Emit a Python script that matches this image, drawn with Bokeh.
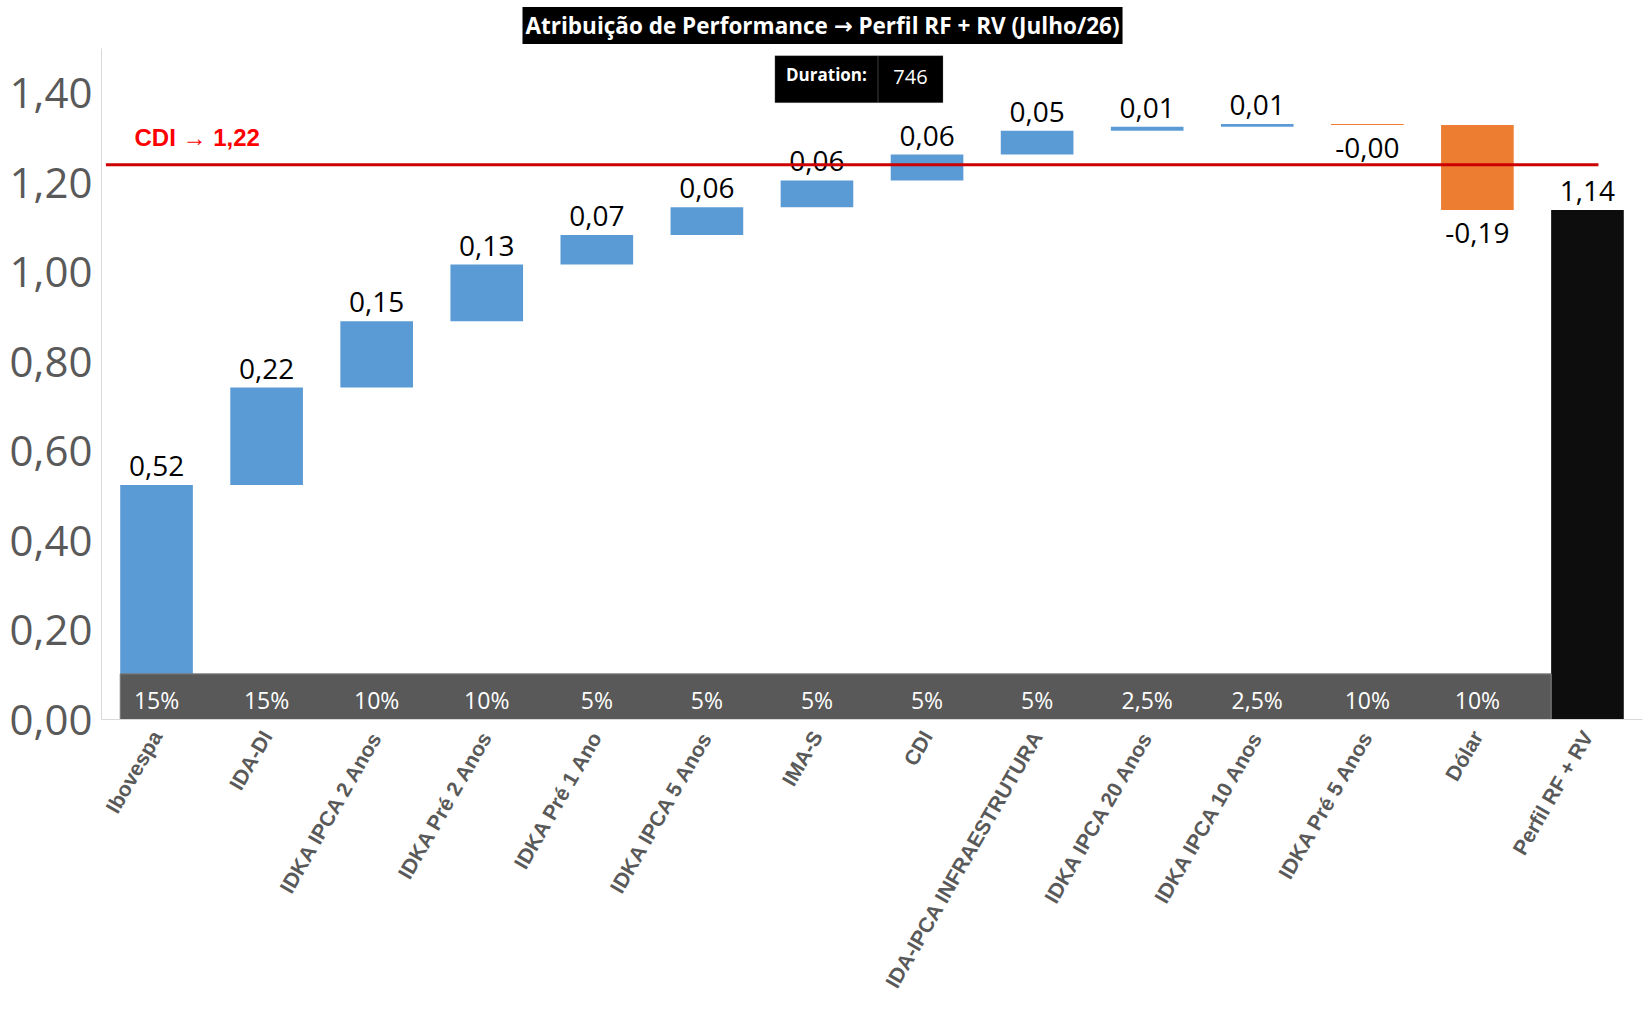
import math
from bokeh.plotting import figure
from bokeh.models import (ColumnDataSource, Range1d, FixedTicker, CustomJSTickFormatter,
                          BoxAnnotation, Label, Title)
from bokeh.transform import dodge
from bokeh.core.properties import value
from bokeh.embed import file_html
from bokeh.resources import INLINE

# Data
categories = ["Ibovespa", "IDA-DI", "IDKA IPCA 2 Anos", "IDKA Pré 2 Anos", "IDKA Pré 1 Ano",
              "IDKA IPCA 5 Anos", "IMA-S", "CDI", "IDA-IPCA INFRAESTRUTURA",
              "IDKA IPCA 20 Anos", "IDKA IPCA 10 Anos", "IDKA Pré 5 Anos", "Dólar"]
contributions = [0.524, 0.218, 0.148, 0.127, 0.066, 0.062, 0.060, 0.058, 0.053,
                 0.009, 0.006, -0.002, -0.190]
weights = ["15%", "15%", "10%", "10%", "5%", "5%", "5%", "5%", "5%",
           "2,5%", "2,5%", "10%", "10%"]
total_name = "Perfil RF + RV"
cdi_text = "CDI → 1,22"
cdi_level = 1.24
duration_value = "746"
y_ticks = [0.0, 0.2, 0.4, 0.6, 0.8, 1.0, 1.2, 1.4]

BLUE = "#5B9BD5"
ORANGE = "#ED7D31"
TOTAL = "#0D0D0D"
BAND = "#595959"
BAR_W = 0.66


def fmt(v):
    return f"{v:.2f}".replace(".", ",")


# waterfall geometry
cats, bottoms, tops, colors, labels, label_y, label_off = [], [], [], [], [], [], []
run = 0.0
for name, c in zip(categories, contributions):
    start, end = run, run + c
    run = end
    cats.append(name)
    bottoms.append(min(start, end))
    tops.append(max(start, end))
    colors.append(BLUE if c >= 0 else ORANGE)
    labels.append(fmt(c))
    label_y.append(max(start, end) if c >= 0 else min(start, end))
    label_off.append(-19 if c >= 0 else 23)
cats.append(total_name)
bottoms.append(0.0)
tops.append(run)
colors.append(TOTAL)
labels.append(fmt(run))
label_y.append(run)
label_off.append(-19)

source = ColumnDataSource(data=dict(cat=cats, bottom=bottoms, top=tops, color=colors,
                                    label=labels, label_y=label_y, yoff=label_off))

p = figure(x_range=cats, y_range=Range1d(0, 1.5), width=1651, height=1010,
           output_backend="svg", toolbar_location=None,
           min_border_left=101, min_border_right=9, min_border_top=48, min_border_bottom=291)
p.outline_line_color = None
p.xgrid.visible = False
p.ygrid.visible = False

# bars
p.vbar(x="cat", bottom="bottom", top="top", width=BAR_W, fill_color="color",
       line_color=None, source=source)

# weight band at the bottom
band = ColumnDataSource(data=dict(left=[cats[0]], right=[cats[-1]], bottom=[-0.006], top=[0.102]))
p.quad(left=dodge("left", -BAR_W / 2, range=p.x_range),
       right=dodge("right", -BAR_W / 2, range=p.x_range),
       bottom="bottom", top="top", fill_color=BAND, line_color="#7F7F7F", line_width=1,
       source=band)
wsrc = ColumnDataSource(data=dict(cat=categories, w=weights, y=[0.044] * len(weights)))
p.text(x="cat", y="y", text="w", source=wsrc, text_color="white", text_align="center",
       text_baseline="middle", text_font=value("Open Sans"), text_font_size="23px")

# value labels
p.text(x="cat", y="label_y", text="label", y_offset="yoff", source=source, text_align="center",
       text_baseline="alphabetic", text_color="black", text_font=value("Open Sans"),
       text_font_size="28px")

# CDI reference line
p.segment(x0=[0.04], x1=[13.6], y0=[cdi_level], y1=[cdi_level], line_color="#CC0000",
          line_width=3)
p.text(x=[0.30], y=[cdi_level], text=[cdi_text], y_offset=-27, text_color="#FF0000",
       text_font=value("Liberation Sans, DejaVu Sans"), text_font_style="bold",
       text_font_size="24px", text_baseline="alphabetic")

# duration box
p.add_layout(BoxAnnotation(left=6.118, right=7.055, bottom=1.379, top=1.484,
                           fill_color="black", fill_alpha=1, line_color="#7F7F7F", line_width=1))
p.add_layout(BoxAnnotation(left=7.055, right=7.645, bottom=1.379, top=1.484,
                           fill_color="black", fill_alpha=1, line_color="#7F7F7F", line_width=1))
p.add_layout(Label(x=6.586, y=1.442, text="Duration:", text_color="white", text_align="center",
                   text_baseline="middle", text_font="Open Sans", text_font_style="bold",
                   text_font_size="17px"))
p.add_layout(Label(x=7.35, y=1.437, text=duration_value, text_color="white", text_align="center",
                   text_baseline="middle", text_font="Open Sans", text_font_size="20px"))

# axes
p.yaxis.ticker = FixedTicker(ticks=y_ticks)
p.yaxis.formatter = CustomJSTickFormatter(code="return tick.toFixed(2).replace('.', ',')")
p.yaxis.major_label_text_font = "Open Sans"
p.yaxis.major_label_text_font_size = "42px"
p.yaxis.major_label_text_color = "#595959"
p.yaxis.major_label_standoff = 9
p.yaxis.axis_line_color = "#D9D9D9"
p.yaxis.major_tick_line_color = None
p.yaxis.minor_tick_line_color = None
p.yaxis.major_tick_out = 0
p.yaxis.major_tick_in = 0

p.xaxis.major_label_orientation = math.radians(60)
p.xaxis.major_label_text_font = "Liberation Sans"
p.xaxis.major_label_text_font_style = "bold"
p.xaxis.major_label_text_font_size = "21px"
p.xaxis.major_label_text_color = "#595959"
p.xaxis.major_label_standoff = 13
p.xaxis.axis_line_color = "#D9D9D9"
p.xaxis.major_tick_line_color = None
p.xaxis.major_tick_out = 0
p.xaxis.major_tick_in = 0

title = Title(text="Atribuição de Performance → Perfil RF + RV (Julho/26)", align="left",
              offset=421, vertical_align="top", text_color="white",
              text_font="Open Sans, DejaVu Sans", text_font_style="bold",
              text_font_size="22.5px", background_fill_color="black", padding=3, standoff=5)
p.add_layout(title, "above")

open("out.html", "w").write(file_html(p, INLINE))
